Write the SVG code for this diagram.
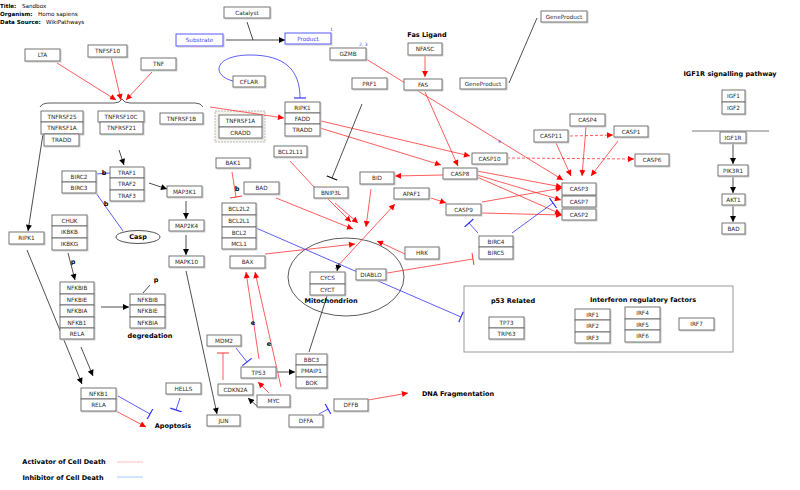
<svg xmlns="http://www.w3.org/2000/svg" width="800" height="490" viewBox="0 0 800 490">
<defs>
<style>
.n rect{fill:#fff;stroke:#666;stroke-width:0.9;filter:url(#sh)}
.n text,.t{font-family:"DejaVu Sans",sans-serif;font-size:5.7px;fill:#2a2a2a;text-anchor:middle}
.bl rect{stroke:#4444ff}
.bl text{fill:#4444ff}
.lb{font-family:"DejaVu Sans",sans-serif;font-weight:bold;font-size:6.5px;fill:#000;text-anchor:middle}
.hd{font-family:"DejaVu Sans",sans-serif;font-size:5.6px;fill:#000}
.num{font-family:"DejaVu Sans",sans-serif;font-size:4.5px;fill:#4444ff}
.r{stroke:#ff3333;stroke-width:0.8;fill:none}
.b{stroke:#3333ff;stroke-width:0.8;fill:none}
.k{stroke:#222;stroke-width:0.8;fill:none}
.ra{marker-end:url(#ar)}
.ka{marker-end:url(#ak)}
.rt{marker-end:url(#tr)}
.bt{marker-end:url(#tb)}
.kt{marker-end:url(#tk)}
.d{stroke-dasharray:3,2}
</style>
<filter id="sh" x="-10%" y="-10%" width="130%" height="140%"><feDropShadow dx="1" dy="1" stdDeviation="0" flood-color="#c8c8c8"/></filter>
<marker id="ar" viewBox="0 0 10 10" refX="10" refY="5" markerWidth="7" markerHeight="6" markerUnits="userSpaceOnUse" orient="auto"><path d="M0,0L10,5L0,10z" fill="#ff0000"/></marker>
<marker id="ak" viewBox="0 0 10 10" refX="10" refY="5" markerWidth="7" markerHeight="6" markerUnits="userSpaceOnUse" orient="auto"><path d="M0,0L10,5L0,10z" fill="#000"/></marker>
<marker id="tr" viewBox="0 -6 2 12" refX="1" refY="0" markerWidth="2" markerHeight="12" markerUnits="userSpaceOnUse" orient="auto"><path d="M1,-6V6" stroke="#ff3333" stroke-width="1"/></marker>
<marker id="tb" viewBox="0 -6 2 12" refX="1" refY="0" markerWidth="2" markerHeight="12" markerUnits="userSpaceOnUse" orient="auto"><path d="M1,-6V6" stroke="#3333ff" stroke-width="1.2"/></marker>
<marker id="tk" viewBox="0 -6 2 12" refX="1" refY="0" markerWidth="2" markerHeight="12" markerUnits="userSpaceOnUse" orient="auto"><path d="M1,-6V6" stroke="#000" stroke-width="1"/></marker>
</defs>
<rect width="800" height="490" fill="#fff"/>

<g id="header">
<text class="hd" x="0" y="8"><tspan font-weight="bold">Title:</tspan><tspan x="22">Sandbox</tspan></text>
<text class="hd" x="0" y="16"><tspan font-weight="bold">Organism:</tspan><tspan x="38">Homo sapiens</tspan></text>
<text class="hd" x="0" y="24"><tspan font-weight="bold">Data Source:</tspan><tspan x="46">WikiPathways</tspan></text>
</g>

<g id="shapes">
<rect x="215" y="111" width="50" height="31" fill="#f4f3ec" stroke="#aaa" stroke-width="0.8" stroke-dasharray="2,1"/>
<ellipse cx="346" cy="277" rx="58" ry="39" fill="none" stroke="#333" stroke-width="0.8"/>
<rect x="464" y="286" width="269" height="66" fill="none" stroke="#999" stroke-width="1"/>
<path d="M40 107Q42 103 50 103L114 103Q120 103 122 99Q124 103 130 103L195 103Q201 103 203 107" fill="none" stroke="#333" stroke-width="0.8"/>
<path d="M692 131H769" stroke="#555" stroke-width="0.8"/>
</g>

<g id="connectors">
<path class="r ra" d="M57 63L116 100"/>
<path class="r ra" d="M111 57L121 100"/>
<path class="r ra" d="M152 72L126 100"/>
<path class="r ra" d="M210 107L284 118"/>
<path class="r ra" d="M425 55L425 77"/>
<path class="r ra" d="M425 92L458 166"/>
<path class="r ra" d="M321 121L470 156"/>
<path class="r ra" d="M320 128L441 165"/>
<path class="r ra" d="M366 59L563 180"/>
<path class="r ra" d="M556 143L571 176"/>
<path class="r ra" d="M586 127L582 176"/>
<path class="r ra" d="M618 141L591 176"/>
<path class="r ra d" d="M570 136L613 135"/>
<path class="r ra d" d="M507 158L634 159"/>
<path class="r ra" d="M477 171L562 187"/>
<path class="r ra" d="M477 175L561 200"/>
<path class="r ra" d="M477 177L561 214"/>
<path class="r ra" d="M482 202L562 188"/>
<path class="r ra" d="M482 213L562 215"/>
<path class="r ra" d="M443 175L395 176"/>
<path class="r ra" d="M431 198L446 203"/>
<path class="r ra" d="M335 269L395 204"/>
<path class="r ra" d="M371 189L366 227"/>
<path class="r ra" d="M327 198L351 222"/>
<path class="r ra" d="M335 203L358 223"/>
<path class="r ra" d="M276 198L353 229"/>
<path class="r ra" d="M265 254L355 244"/>
<path class="r ra" d="M405 254L377 241"/>
<path class="r" d="M290 161L314 187"/>
<path class="r ra" d="M116 411L146 427"/>
<path class="r ra" d="M368 400L408 393"/>
<path class="r ra" d="M269 393L258 382"/>
<path class="r ra" d="M259 359L246 272"/>
<path class="r ra" d="M281 387L255 272"/>
<path class="r rt" d="M232 172L236 197"/>
<path class="r rt" d="M387 273L473 259"/>
<path class="r rt" d="M223 380L223 353"/>
<path class="b bt" d="M238 82C210 78 212 55 250 55C285 55 300 70 300 98"/>
<path class="b bt" d="M478 233L469 223"/>
<path class="b bt" d="M512 233L553 203"/>
<path class="b bt" d="M256 228L461 317"/>
<path class="b bt" d="M118 396L150 414"/>
<path class="b bt" d="M180 398L176 410"/>
<path class="b bt" d="M236 348L247 362"/>
<path class="b bt" d="M319 414L328 409"/>
<path class="b" d="M96 174L110 173"/>
<path class="b" d="M96 193L123 231"/>
<path class="k ka" d="M226 40L285 40"/>
<path class="k" d="M247 22L253 40"/>
<path class="k ka" d="M119 150L124 165"/>
<path class="k ka" d="M149 183L167 189"/>
<path class="k ka" d="M186 201L186 219"/>
<path class="k ka" d="M186 235L186 255"/>
<path class="k ka" d="M186 271L217 414"/>
<path class="k ka" d="M43 134L28 231"/>
<path class="k ka" d="M27 250L82 384"/>
<path class="k ka" d="M81 347L93 376"/>
<path class="k ka" d="M68 253L75 280"/>
<path class="k ka" d="M101 307L129 307"/>
<path class="k" d="M150 285L143 293"/>
<path class="k ka" d="M733 143L733 164"/>
<path class="k ka" d="M733 177L733 193"/>
<path class="k ka" d="M733 206L733 222"/>
<path class="k" d="M509 83L537 18"/>
<path class="k kt" d="M362 104L332 178"/>
<path class="k" d="M309 352L327 296"/>
<path class="k ka" d="M277 372L295 372"/>
<path class="k ka" d="M258 407L248 398"/>
<path class="k ka" d="M339 263L337 271"/>
</g>

<g id="Catalyst" class="n"><rect x="224" y="7" width="46" height="11"/><text x="247" y="14.5">Catalyst</text></g>
<g id="Substrate" class="n bl"><rect x="176" y="34" width="47" height="12"/><text x="199.5" y="42">Substrate</text></g>
<g id="Product" class="n bl"><rect x="285" y="33" width="46" height="11"/><text x="308" y="40.5">Product</text></g>
<g id="GZMB" class="n"><rect x="330" y="48" width="36" height="12"/><text x="348" y="56">GZMB</text></g>
<g id="NFASC" class="n"><rect x="408" y="43" width="34" height="12"/><text x="425" y="51">NFASC</text></g>
<g id="FAS" class="n"><rect x="404" y="79" width="38" height="11"/><text x="423" y="86.5">FAS</text></g>
<g id="PRF1" class="n"><rect x="352" y="78" width="35" height="11"/><text x="369.5" y="85.5">PRF1</text></g>
<g id="GeneProduct1" class="n"><rect x="460" y="78" width="46" height="11"/><text x="483" y="85.5">GeneProduct</text></g>
<g id="GeneProduct2" class="n"><rect x="541" y="11" width="46" height="11"/><text x="564" y="18.5">GeneProduct</text></g>
<g id="LTA" class="n"><rect x="25" y="49" width="35" height="12"/><text x="42.5" y="57">LTA</text></g>
<g id="TNFSF10" class="n"><rect x="88" y="45" width="39" height="12"/><text x="107.5" y="53">TNFSF10</text></g>
<g id="TNF" class="n"><rect x="141" y="58" width="35" height="12"/><text x="158.5" y="66">TNF</text></g>
<g id="TNFRSF25" class="n"><rect x="41" y="111" width="42" height="11"/><text x="62" y="118.5">TNFRSF25</text></g>
<g id="TNFRSF1A_a" class="n"><rect x="41" y="122" width="42" height="12"/><text x="62" y="130">TNFRSF1A</text></g>
<g id="TRADD_a" class="n"><rect x="44" y="134" width="35" height="12"/><text x="61.5" y="142">TRADD</text></g>
<g id="TNFRSF10C" class="n"><rect x="98" y="111" width="46" height="11"/><text x="121" y="118.5">TNFRSF10C</text></g>
<g id="TNFRSF21" class="n"><rect x="100" y="122" width="43" height="12"/><text x="121.5" y="130">TNFRSF21</text></g>
<g id="TNFRSF1B" class="n"><rect x="160" y="113" width="43" height="11"/><text x="181.5" y="120.5">TNFRSF1B</text></g>
<g id="TNFRSF1A_b" class="n"><rect x="219" y="115" width="43" height="12"/><text x="240.5" y="123">TNFRSF1A</text></g>
<g id="CRADD" class="n"><rect x="219" y="127" width="43" height="11"/><text x="240.5" y="134.5">CRADD</text></g>
<g id="CFLAR" class="n"><rect x="233" y="76" width="32" height="11"/><text x="249" y="83.5">CFLAR</text></g>
<g id="RIPK1_a" class="n"><rect x="285" y="102" width="35" height="11"/><text x="302.5" y="109.5">RIPK1</text></g>
<g id="FADD" class="n"><rect x="285" y="113" width="35" height="11"/><text x="302.5" y="120.5">FADD</text></g>
<g id="TRADD_b" class="n"><rect x="285" y="124" width="35" height="12"/><text x="302.5" y="132">TRADD</text></g>
<g id="BCL2L11" class="n"><rect x="274" y="146" width="33" height="11"/><text x="290.5" y="153.5">BCL2L11</text></g>
<g id="BAK1" class="n"><rect x="216" y="158" width="34" height="10"/><text x="233" y="165">BAK1</text></g>
<g id="BAD_a" class="n"><rect x="244" y="182" width="35" height="12"/><text x="261.5" y="190">BAD</text></g>
<g id="BNIP3L" class="n"><rect x="314" y="187" width="34" height="11"/><text x="331" y="194.5">BNIP3L</text></g>
<g id="BCL2L2" class="n"><rect x="222" y="203" width="34" height="12"/><text x="239" y="211">BCL2L2</text></g>
<g id="BCL2L1" class="n"><rect x="222" y="215" width="34" height="12"/><text x="239" y="223">BCL2L1</text></g>
<g id="BCL2" class="n"><rect x="222" y="227" width="34" height="11"/><text x="239" y="234.5">BCL2</text></g>
<g id="MCL1" class="n"><rect x="222" y="238" width="34" height="11"/><text x="239" y="245.5">MCL1</text></g>
<g id="BAX" class="n"><rect x="230" y="256" width="35" height="12"/><text x="247.5" y="264">BAX</text></g>
<g id="MAP3K1" class="n"><rect x="167" y="186" width="35" height="11"/><text x="184.5" y="193.5">MAP3K1</text></g>
<g id="MAP2K4" class="n"><rect x="169" y="220" width="35" height="11"/><text x="186.5" y="227.5">MAP2K4</text></g>
<g id="MAPK10" class="n"><rect x="169" y="256" width="35" height="11"/><text x="186.5" y="263.5">MAPK10</text></g>
<g id="JUN" class="n"><rect x="207" y="415" width="33" height="11"/><text x="223.5" y="422.5">JUN</text></g>
<g id="TRAF1" class="n"><rect x="110" y="167" width="34" height="11"/><text x="127" y="174.5">TRAF1</text></g>
<g id="TRAF2" class="n"><rect x="110" y="178" width="34" height="12"/><text x="127" y="186">TRAF2</text></g>
<g id="TRAF3" class="n"><rect x="110" y="190" width="34" height="11"/><text x="127" y="197.5">TRAF3</text></g>
<g id="BIRC2" class="n"><rect x="62" y="171" width="34" height="11"/><text x="79" y="178.5">BIRC2</text></g>
<g id="BIRC3" class="n"><rect x="62" y="182" width="34" height="11"/><text x="79" y="189.5">BIRC3</text></g>
<g id="Casp"><ellipse cx="138" cy="237" rx="22" ry="6.5" fill="#fff" stroke="#222" stroke-width="0.8"/><text class="lb" x="138" y="239.3">Casp</text></g>
<g id="CHUK" class="n"><rect x="52" y="215" width="35" height="11"/><text x="69.5" y="222.5">CHUK</text></g>
<g id="IKBKB" class="n"><rect x="52" y="226" width="35" height="12"/><text x="69.5" y="234">IKBKB</text></g>
<g id="IKBKG" class="n"><rect x="52" y="238" width="35" height="12"/><text x="69.5" y="246">IKBKG</text></g>
<g id="RIPK1_b" class="n"><rect x="9" y="232" width="35" height="12"/><text x="26.5" y="240">RIPK1</text></g>
<g id="NFKBIB_a" class="n"><rect x="60" y="282" width="34" height="12"/><text x="77" y="290">NFKBIB</text></g>
<g id="NFKBIE_a" class="n"><rect x="60" y="294" width="34" height="11"/><text x="77" y="301.5">NFKBIE</text></g>
<g id="NFKBIA_a" class="n"><rect x="60" y="305" width="34" height="12"/><text x="77" y="313">NFKBIA</text></g>
<g id="NFKB1_a" class="n"><rect x="60" y="317" width="34" height="11"/><text x="77" y="324.5">NFKB1</text></g>
<g id="RELA_a" class="n"><rect x="60" y="328" width="34" height="11"/><text x="77" y="335.5">RELA</text></g>
<g id="NFKBIB_b" class="n"><rect x="130" y="294" width="35" height="11"/><text x="147.5" y="301.5">NFKBIB</text></g>
<g id="NFKBIE_b" class="n"><rect x="130" y="305" width="35" height="12"/><text x="147.5" y="313">NFKBIE</text></g>
<g id="NFKBIA_b" class="n"><rect x="130" y="317" width="35" height="11"/><text x="147.5" y="324.5">NFKBIA</text></g>
<g id="NFKB1_b" class="n"><rect x="81" y="388" width="35" height="11"/><text x="98.5" y="395.5">NFKB1</text></g>
<g id="RELA_b" class="n"><rect x="81" y="399" width="35" height="12"/><text x="98.5" y="407">RELA</text></g>
<g id="HELLS" class="n"><rect x="166" y="383" width="35" height="11"/><text x="183.5" y="390.5">HELLS</text></g>
<g id="MDM2" class="n"><rect x="207" y="335" width="34" height="11"/><text x="224" y="342.5">MDM2</text></g>
<g id="TP53" class="n"><rect x="241" y="367" width="35" height="11"/><text x="258.5" y="374.5">TP53</text></g>
<g id="CDKN2A" class="n"><rect x="218" y="384" width="35" height="11"/><text x="235.5" y="391.5">CDKN2A</text></g>
<g id="MYC" class="n"><rect x="257" y="395" width="33" height="12"/><text x="273.5" y="403">MYC</text></g>
<g id="BBC3" class="n"><rect x="296" y="354" width="31" height="11"/><text x="311.5" y="361.5">BBC3</text></g>
<g id="PMAIP1" class="n"><rect x="296" y="365" width="31" height="12"/><text x="311.5" y="373">PMAIP1</text></g>
<g id="BOK" class="n"><rect x="296" y="377" width="31" height="11"/><text x="311.5" y="384.5">BOK</text></g>
<g id="DFFA" class="n"><rect x="289" y="415" width="34" height="12"/><text x="306" y="423">DFFA</text></g>
<g id="DFFB" class="n"><rect x="334" y="399" width="34" height="12"/><text x="351" y="407">DFFB</text></g>
<g id="CYCS" class="n"><rect x="310" y="272" width="35" height="12"/><text x="327.5" y="280">CYCS</text></g>
<g id="CYCT" class="n"><rect x="310" y="284" width="35" height="11"/><text x="327.5" y="291.5">CYCT</text></g>
<g id="DIABLO" class="n"><rect x="356" y="269" width="30" height="11"/><text x="371" y="276.5">DIABLO</text></g>
<g id="HRK" class="n"><rect x="405" y="247" width="34" height="12"/><text x="422" y="255">HRK</text></g>
<g id="BID" class="n"><rect x="360" y="172" width="34" height="12"/><text x="377" y="180">BID</text></g>
<g id="APAF1" class="n"><rect x="394" y="188" width="35" height="11"/><text x="411.5" y="195.5">APAF1</text></g>
<g id="CASP8" class="n"><rect x="443" y="168" width="34" height="11"/><text x="460" y="175.5">CASP8</text></g>
<g id="CASP10" class="n"><rect x="472" y="153" width="35" height="11"/><text x="489.5" y="160.5">CASP10</text></g>
<g id="CASP9" class="n"><rect x="446" y="204" width="35" height="11"/><text x="463.5" y="211.5">CASP9</text></g>
<g id="CASP3" class="n"><rect x="562" y="183" width="34" height="12"/><text x="579" y="191">CASP3</text></g>
<g id="CASP7" class="n"><rect x="562" y="196" width="34" height="11"/><text x="579" y="203.5">CASP7</text></g>
<g id="CASP2" class="n"><rect x="562" y="209" width="34" height="11"/><text x="579" y="216.5">CASP2</text></g>
<g id="BIRC4" class="n"><rect x="479" y="236" width="34" height="11"/><text x="496" y="243.5">BIRC4</text></g>
<g id="BIRC5" class="n"><rect x="479" y="247" width="34" height="12"/><text x="496" y="255">BIRC5</text></g>
<g id="CASP4" class="n"><rect x="570" y="114" width="35" height="12"/><text x="587.5" y="122">CASP4</text></g>
<g id="CASP11" class="n"><rect x="534" y="130" width="34" height="12"/><text x="551" y="138">CASP11</text></g>
<g id="CASP1" class="n"><rect x="614" y="126" width="34" height="11"/><text x="631" y="133.5">CASP1</text></g>
<g id="CASP6" class="n"><rect x="635" y="154" width="34" height="12"/><text x="652" y="162">CASP6</text></g>
<g id="IGF1" class="n"><rect x="722" y="90" width="23" height="12"/><text x="733.5" y="98">IGF1</text></g>
<g id="IGF2" class="n"><rect x="722" y="102" width="23" height="12"/><text x="733.5" y="110">IGF2</text></g>
<g id="IGF1R" class="n"><rect x="720" y="132" width="26" height="11"/><text x="733" y="139.5">IGF1R</text></g>
<g id="PIK3R1" class="n"><rect x="718" y="165" width="30" height="11"/><text x="733" y="172.5">PIK3R1</text></g>
<g id="AKT1" class="n"><rect x="722" y="194" width="23" height="11"/><text x="733.5" y="201.5">AKT1</text></g>
<g id="BAD_b" class="n"><rect x="722" y="223" width="23" height="11"/><text x="733.5" y="230.5">BAD</text></g>
<g id="TP73" class="n"><rect x="489" y="317" width="35" height="11"/><text x="506.5" y="324.5">TP73</text></g>
<g id="TRP63" class="n"><rect x="489" y="328" width="35" height="11"/><text x="506.5" y="335.5">TRP63</text></g>
<g id="IRF1" class="n"><rect x="575" y="309" width="35" height="11"/><text x="592.5" y="316.5">IRF1</text></g>
<g id="IRF2" class="n"><rect x="575" y="320" width="35" height="12"/><text x="592.5" y="328">IRF2</text></g>
<g id="IRF3" class="n"><rect x="575" y="332" width="35" height="11"/><text x="592.5" y="339.5">IRF3</text></g>
<g id="IRF4" class="n"><rect x="625" y="307" width="35" height="12"/><text x="642.5" y="315">IRF4</text></g>
<g id="IRF5" class="n"><rect x="625" y="319" width="35" height="11"/><text x="642.5" y="326.5">IRF5</text></g>
<g id="IRF6" class="n"><rect x="625" y="330" width="35" height="12"/><text x="642.5" y="338">IRF6</text></g>
<g id="IRF7" class="n"><rect x="679" y="318" width="35" height="12"/><text x="696.5" y="326">IRF7</text></g>

<g id="labels">
<text class="lb" x="427" y="36.5" font-size="6.8">Fas Ligand</text>
<text class="lb" x="730" y="76" font-size="5.6">IGF1R signalling pathway</text>
<text class="lb" x="513" y="303" font-size="5.6">p53 Related</text>
<text class="lb" x="643" y="302">Interferon regulatory factors</text>
<text class="lb" x="331" y="303">Mitochondrion</text>
<text class="lb" x="150" y="338">degredation</text>
<text class="lb" x="173" y="427.5">Apoptosis</text>
<text class="lb" x="458" y="395.5">DNA Fragmentation</text>
<text class="lb" x="104" y="174.5">b</text>
<text class="lb" x="106" y="205.5">b</text>
<text class="lb" x="237" y="190.5">b</text>
<text class="lb" x="73" y="263.5">p</text>
<text class="lb" x="156" y="281.5">p</text>
<text class="lb" x="253" y="325" font-size="5.5">e</text>
<text class="lb" x="269" y="346" font-size="5.5">e</text>
<text class="num" x="330" y="31">1</text>
<text class="num" x="359" y="46">2, 3</text>
<text class="num" x="498" y="143">4</text>
</g>

<g id="legend">
<text class="lb" x="64" y="463.5">Activator of Cell Death</text>
<text class="lb" x="63" y="479.5">Inhibitor of Cell Death</text>
<path d="M117 462H143" stroke="#ffaaaa" stroke-width="0.8"/>
<path d="M117 477H143" stroke="#88bbff" stroke-width="0.8"/>
</g>
</svg>
